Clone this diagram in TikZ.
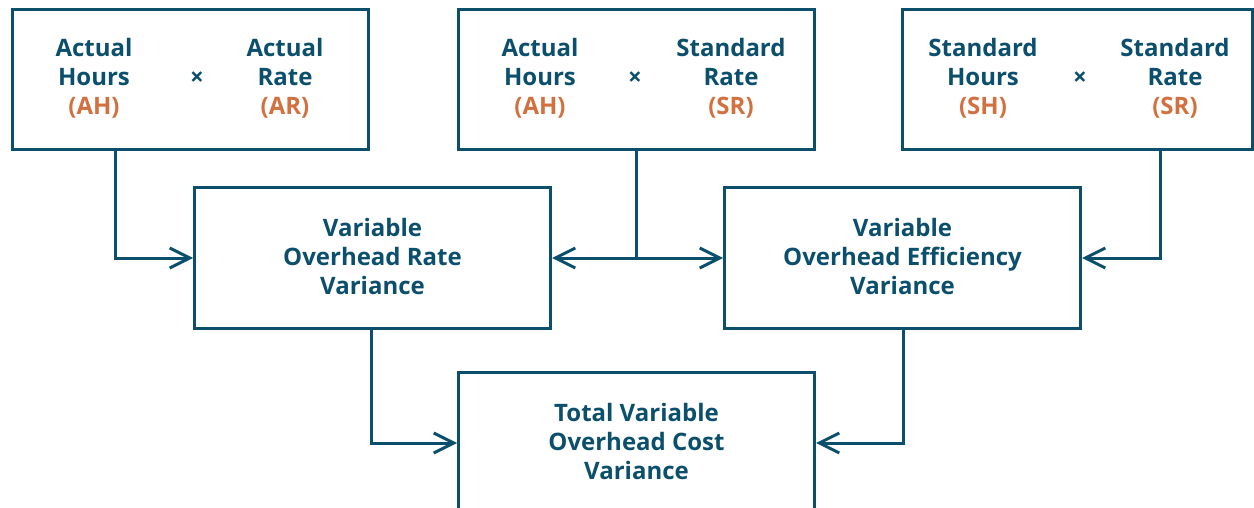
\documentclass[tikz,border=0pt]{standalone}
\usepackage{fontspec}
\setmainfont{Open Sans}
\usetikzlibrary{arrows.meta}
\definecolor{dblue}{HTML}{0B4F6C}
\definecolor{orng}{HTML}{D2703F}
\tikzset{
  box/.style={draw=dblue, line width=3pt, fill=none, minimum width=356pt, minimum height=140pt, inner sep=0pt},
  txt/.style={text=dblue, font=\bfseries\fontsize{24}{29}\selectfont, align=center, inner sep=0pt},
  conn/.style={draw=dblue, line width=3pt, -{Straight Barb[length=20pt,width=20pt,line width=3pt]}},
  conn2/.style={draw=dblue, line width=3pt, {Straight Barb[length=20pt,width=20pt,line width=3pt]}-{Straight Barb[length=20pt,width=20pt,line width=3pt]}},
}
\newcommand{\ab}[1]{\textcolor{orng}{#1}}
\begin{document}
\begin{tikzpicture}[x=1pt,y=-1pt]
\useasboundingbox (0,0) rectangle (1254,508);
\clip (0,0) rectangle (1254,508);
% boxes
\node[box] (tl) at (190,80) {};
\node[box] (tm) at (636.5,80) {};
\node[box, minimum width=350pt] (tr) at (1077,80) {};
\node[box] (ml) at (372.5,258) {};
\node[box] (mr) at (902.5,258) {};
\node[box, minimum height=150pt] (bt) at (636.5,447) {};
% texts
\node[txt] (t1) at (94,78.5) {Actual\\Hours\\\ab{(AH)}};
\node[txt] (x1) at (197,78.5) {×};
\node[txt] (t2) at (285,78.5) {Actual\\Rate\\\ab{(AR)}};
\node[txt] (t3) at (540,78.5) {Actual\\Hours\\\ab{(AH)}};
\node[txt] (x2) at (635,78.5) {×};
\node[txt] (t4) at (731,78.5) {Standard\\Rate\\\ab{(SR)}};
\node[txt] (t5) at (983,78.5) {Standard\\Hours\\\ab{(SH)}};
\node[txt] (x3) at (1080,78.5) {×};
\node[txt] (t6) at (1175,78.5) {Standard\\Rate\\\ab{(SR)}};
\node[txt] (t7) at (372.5,256.5) {Variable\\Overhead Rate\\Variance};
\node[txt] (t8) at (902.5,256.5) {Variable\\Overhead Efficiency\\Variance};
\node[txt] (t9) at (636.5,441.5) {Total Variable\\Overhead Cost\\Variance};
% connectors
\coordinate (j) at (636,258);
\draw[conn] (tl.south -| 115,0) |- (ml.west);
\draw[draw=dblue, line width=3pt] (tm.south -| j) -- (j);
\draw[conn2] (ml.east) -- (mr.west);
\draw[conn] (tr.south -| 1160,0) |- (mr.east);
\draw[conn] (ml.south -| 371,0) |- (bt.west |- 0,443);
\draw[conn] (mr.south -| 903,0) |- (bt.east |- 0,443);
\end{tikzpicture}
\end{document}
